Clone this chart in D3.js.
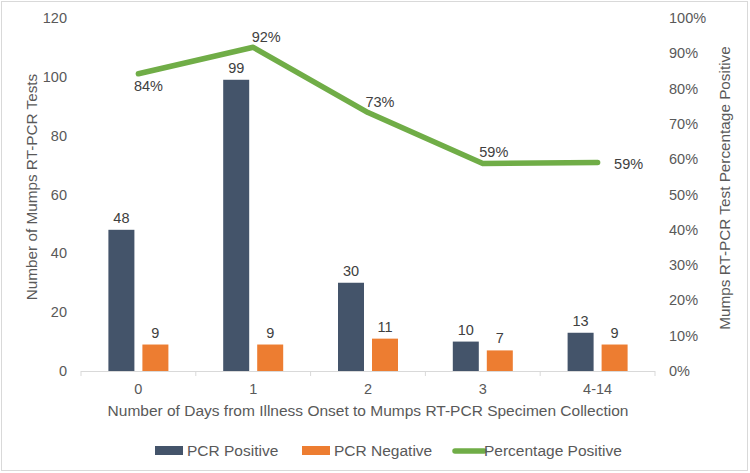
<!DOCTYPE html>
<html><head><meta charset="utf-8">
<script src="https://cdn.jsdelivr.net/npm/d3@7"></script>
<style>body{margin:0;background:#fff}svg{display:block}text{font-family:Arial,"Liberation Sans",sans-serif}</style>
</head><body><svg id="c" width="750" height="473"></svg>
<script>
const categories = ["0","1","2","3","4-14"];
const pcrPositive = [48,99,30,10,13];
const pcrNegative = [9,9,11,7,9];
const pctPositive = [0.842,0.917,0.732,0.588,0.591];
const pctLabels = ["84%","92%","73%","59%","59%"];
const leftTicks = [0,20,40,60,80,100,120];
const rightTicks = [0,0.1,0.2,0.3,0.4,0.5,0.6,0.7,0.8,0.9,1.0];

const svg = d3.select("#c");
const L=81, R=655, T=18, B=371;
const txt="#595959";
svg.append("rect").attr("x",1.5).attr("y",1.5).attr("width",746).attr("height",469)
  .attr("fill","#fff").attr("stroke","#d9d9d9");

const x = d3.scaleBand().domain(categories).range([L,R]);
const yL = d3.scaleLinear().domain([0,120]).range([B,T]);
const yR = d3.scaleLinear().domain([0,1]).range([B,T]);

svg.append("g").selectAll("text").data(leftTicks).join("text")
  .attr("x",67).attr("y",d=>yL(d)).attr("dy","0.35em").attr("text-anchor","end")
  .attr("font-size",14.5).attr("fill",txt).text(d=>d);
svg.append("g").selectAll("text").data(rightTicks).join("text")
  .attr("x",669).attr("y",d=>yR(d)).attr("dy","0.35em").attr("text-anchor","start")
  .attr("font-size",14.5).attr("fill",txt).text(d=>d3.format(".0%")(d));

svg.append("line").attr("x1",L).attr("x2",R).attr("y1",B+0.5).attr("y2",B+0.5).attr("stroke","#d9d9d9");
const bounds = categories.map(c=>x(c)).concat([R]);
svg.append("g").selectAll("line").data(bounds).join("line")
  .attr("x1",d=>d).attr("x2",d=>d).attr("y1",B).attr("y2",B+5).attr("stroke","#d9d9d9");
svg.append("g").selectAll("text").data(categories).join("text")
  .attr("x",d=>x(d)+x.bandwidth()/2).attr("y",389).attr("dy","0.35em").attr("text-anchor","middle")
  .attr("font-size",14.5).attr("fill",txt).text(d=>d);

const bw=26, gap=8;
const cx = d=>x(d)+x.bandwidth()/2;
svg.append("g").selectAll("rect").data(categories).join("rect")
  .attr("x",(d)=>cx(d)-gap/2-bw).attr("width",bw)
  .attr("y",(d,i)=>yL(pcrPositive[i])).attr("height",(d,i)=>B-yL(pcrPositive[i])).attr("fill","#44546a");
svg.append("g").selectAll("rect").data(categories).join("rect")
  .attr("x",(d)=>cx(d)+gap/2).attr("width",bw)
  .attr("y",(d,i)=>yL(pcrNegative[i])).attr("height",(d,i)=>B-yL(pcrNegative[i])).attr("fill","#ed7d31");
svg.append("g").selectAll("text").data(categories).join("text")
  .attr("x",d=>cx(d)-gap/2-bw/2).attr("y",(d,i)=>yL(pcrPositive[i])-12).attr("dy","0.35em")
  .attr("text-anchor","middle").attr("font-size",14.5).attr("fill","#404040").text((d,i)=>pcrPositive[i]);
svg.append("g").selectAll("text").data(categories).join("text")
  .attr("x",d=>cx(d)+gap/2+bw/2).attr("y",(d,i)=>yL(pcrNegative[i])-12).attr("dy","0.35em")
  .attr("text-anchor","middle").attr("font-size",14.5).attr("fill","#404040").text((d,i)=>pcrNegative[i]);

const line = d3.line().x((d,i)=>cx(categories[i])).y(d=>yR(d));
svg.append("path").datum(pctPositive).attr("d",line).attr("fill","none")
  .attr("stroke","#70ad47").attr("stroke-width",5.5).attr("stroke-linecap","round").attr("stroke-linejoin","round");
const off = [[10,12],[13,-10],[12,-11],[11,-12],[31,2]];
svg.append("g").selectAll("text").data(pctPositive).join("text")
  .attr("x",(d,i)=>cx(categories[i])+off[i][0]).attr("y",(d,i)=>yR(d)+off[i][1]).attr("dy","0.35em")
  .attr("text-anchor","middle").attr("font-size",14.5).attr("fill","#404040").text((d,i)=>pctLabels[i]);

svg.append("text").attr("transform","translate(32,187) rotate(-90)").attr("text-anchor","middle")
  .attr("dy","0.35em").attr("font-size",15.3).attr("fill",txt).text("Number of Mumps RT-PCR Tests");
svg.append("text").attr("transform","translate(725,188) rotate(-90)").attr("text-anchor","middle")
  .attr("dy","0.35em").attr("font-size",15.3).attr("fill",txt).text("Mumps RT-PCR Test Percentage Positive");
svg.append("text").attr("x",368).attr("y",411).attr("dy","0.35em").attr("text-anchor","middle")
  .attr("font-size",15.5).attr("fill",txt).text("Number of Days from Illness Onset to Mumps RT-PCR Specimen Collection");

const lg = svg.append("g");
const items=[{t:"PCR Positive",c:"#44546a",x:155,type:"rect"},{t:"PCR Negative",c:"#ed7d31",x:302,type:"rect"},{t:"Percentage Positive",c:"#70ad47",x:452,type:"line"}];
items.forEach(it=>{
  if(it.type==="rect") lg.append("rect").attr("x",it.x).attr("y",446).attr("width",28).attr("height",9).attr("fill",it.c);
  else lg.append("line").attr("x1",it.x+3).attr("x2",it.x+32).attr("y1",451).attr("y2",451).attr("stroke",it.c).attr("stroke-width",5.5).attr("stroke-linecap","round");
  lg.append("text").attr("x",it.x+32).attr("y",451).attr("dy","0.35em").attr("font-size",15.5).attr("fill",txt).text(it.t);
});
</script></body></html>
